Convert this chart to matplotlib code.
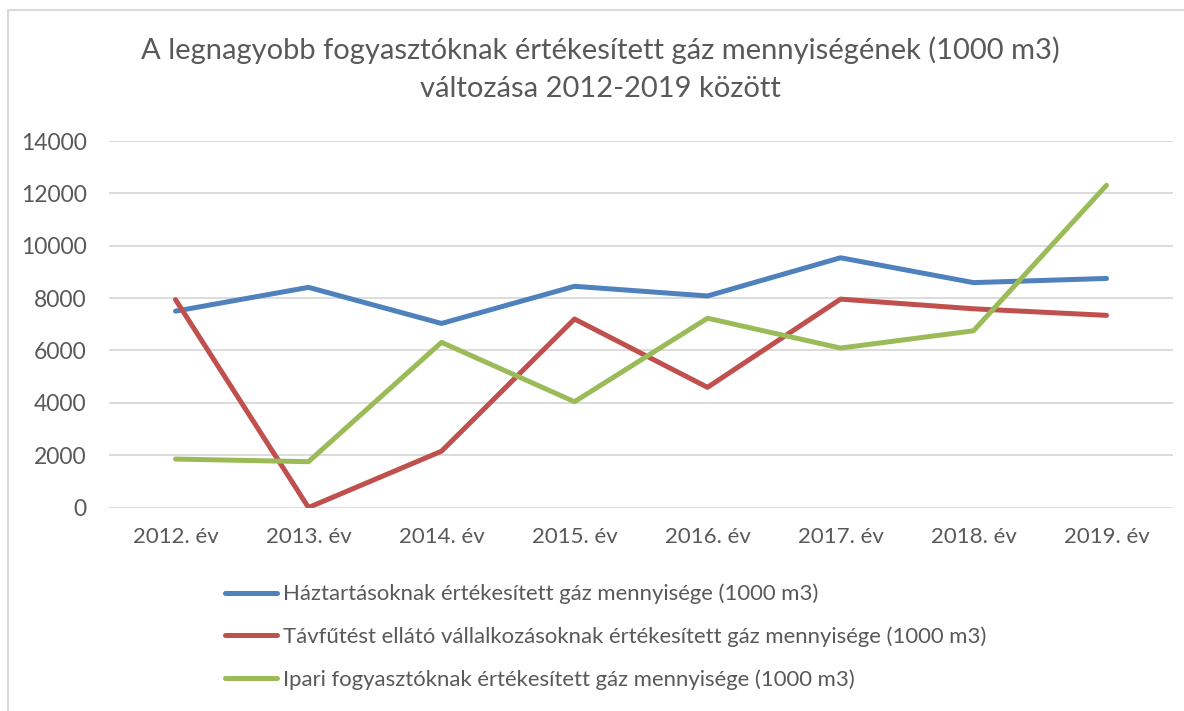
import matplotlib.pyplot as plt
from matplotlib.patches import Rectangle

years = ['2012. év', '2013. év', '2014. év', '2015. év', '2016. év', '2017. év', '2018. év', '2019. év']
haztartas = [7500, 8410, 7030, 8450, 8080, 9540, 8590, 8750]
tavfutes = [7940, 0, 2150, 7200, 4590, 7960, 7590, 7340]
ipari = [1850, 1750, 6310, 4040, 7230, 6090, 6750, 12310]

labels = ['Háztartásoknak értékesített gáz mennyisége (1000 m3)',
          'Távfűtést ellátó vállalkozásoknak értékesített gáz mennyisége (1000 m3)',
          'Ipari fogyasztóknak értékesített gáz mennyisége (1000 m3)']
colors = ['#4F81BD', '#C0504D', '#9BBB59']

plt.rcParams['font.family'] = ['Lato', 'DejaVu Sans']
text_color = '#595959'

fig = plt.figure(figsize=(11.84, 7.11), dpi=100)
W, H = 1184, 711
ax = fig.add_axes([109 / W, 1 - 507.5 / H, (1173 - 109) / W, (507.5 - 141) / H])

x = range(len(years))
for vals, lab, c in zip([haztartas, tavfutes, ipari], labels, colors):
    ax.plot(x, vals, color=c, lw=3.6, label=lab, solid_capstyle='round', solid_joinstyle='round')

ax.set_xlim(-0.5, len(years) - 0.5)
ax.set_ylim(0, 14000)
ax.set_yticks(range(0, 14001, 2000))
ax.set_xticks(list(x))
ax.set_xticklabels(years)
ax.tick_params(length=0, colors=text_color, labelsize=16)
ax.tick_params(axis='y', labelsize=16.5)
ax.tick_params(axis='x', pad=14)
ax.tick_params(axis='y', pad=16)
ax.grid(axis='y', color='#D9D9D9', lw=1.3)
ax.set_axisbelow(True)
for s in ax.spines.values():
    s.set_visible(False)

fig.text(600 / W, 1 - 50 / H, 'A legnagyobb fogyasztóknak értékesített gáz mennyiségének (1000 m3)',
         ha='center', va='center', fontsize=21, color=text_color)
fig.text(600 / W, 1 - 89 / H, 'változása 2012-2019 között',
         ha='center', va='center', fontsize=21, color=text_color)

fig.legend(loc='upper left', bbox_to_anchor=(216 / W, 1 - 575 / H), frameon=False,
           fontsize=15.9, labelcolor=text_color, handlelength=2.35, handletextpad=0.3,
           labelspacing=1.0, borderaxespad=0)

fig.patches.append(Rectangle((8 / W, -0.1), 1.2, (1 - 10 / H) + 0.1, transform=fig.transFigure,
                             fill=False, edgecolor='#D9D9D9', lw=1.5))

fig.savefig('out.png', dpi=100)
